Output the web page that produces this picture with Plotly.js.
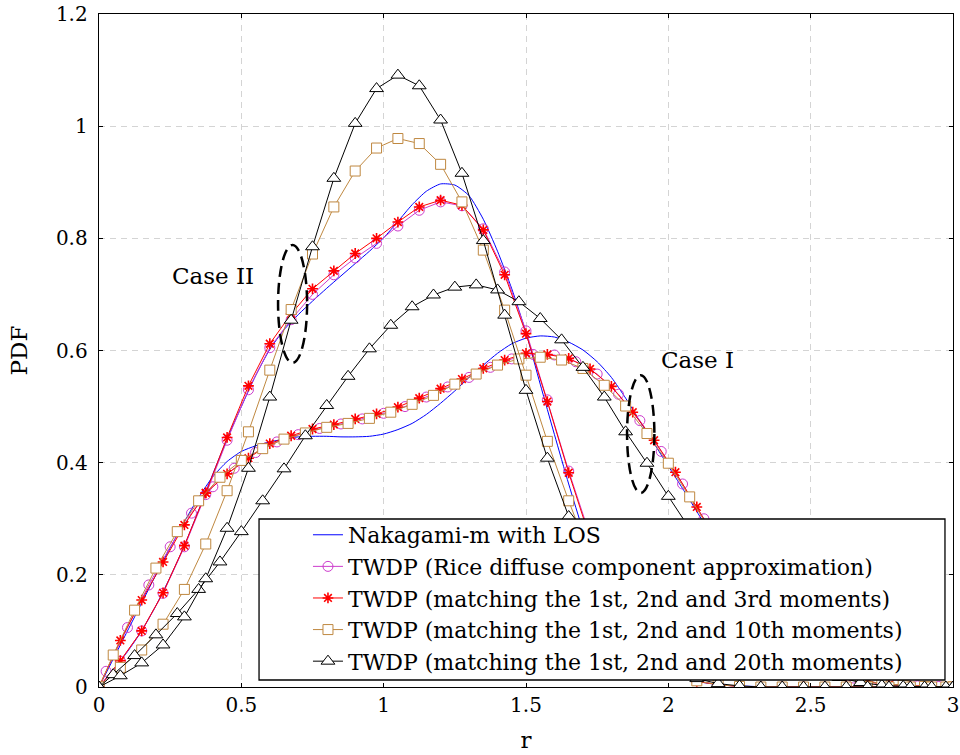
<!DOCTYPE html>
<html>
<head>
<meta charset="utf-8">
<script src="https://cdn.plot.ly/plotly-3.0.1.min.js"></script>
<style>
  html, body { margin: 0; padding: 0; background: #ffffff; }
  #chart { width: 960px; height: 755px; }
</style>
</head>
<body>
<div id="chart"></div>
<script>
// ---------- sampling positions (r) ----------
const rA = [0,0.075,0.15,0.225,0.3,0.375,0.45,0.525,0.6,0.675,0.75,0.825,0.9,0.975,1.05,1.125,1.2,1.275,1.35,1.425,1.5,1.575,1.65,1.725,1.8,1.875,1.95,2.025,2.1,2.175,2.25,2.325,2.4,2.475,2.55,2.625,2.7,2.775,2.85,2.925,3.0];
const rB = [0,0.025,0.1,0.175,0.25,0.325,0.4,0.475,0.55,0.625,0.7,0.775,0.85,0.925,1.0,1.075,1.15,1.225,1.3,1.375,1.45,1.525,1.6,1.675,1.75,1.825,1.9,1.975,2.05,2.125,2.2,2.275,2.35,2.425,2.5,2.575,2.65,2.725,2.8,2.875,2.95,3.0];
const rC = [0,0.05,0.125,0.2,0.275,0.35,0.425,0.5,0.575,0.65,0.725,0.8,0.875,0.95,1.025,1.1,1.175,1.25,1.325,1.4,1.475,1.55,1.625,1.7,1.775,1.85,1.925,2.0,2.075,2.15,2.225,2.3,2.375,2.45,2.525,2.6,2.675,2.75,2.825,2.9,2.975,3.0];
const rFine = [0,0.05,0.1,0.15,0.2,0.25,0.3,0.35,0.4,0.45,0.5,0.55,0.6,0.65,0.7,0.75,0.8,0.85,0.9,0.95,1.0,1.05,1.1,1.15,1.2,1.25,1.3,1.35,1.4,1.45,1.5,1.55,1.6,1.65,1.7,1.75,1.8,1.85,1.9,1.95,2.0,2.05,2.1,2.15,2.2,2.25,2.3,2.35,2.4,2.45,2.5,2.55,2.6,2.65,2.7,2.75,2.8,2.85,2.9,2.95,3.0];

// ---------- Case I ----------
const nakagamiCaseI = [0,0.05,0.1,0.15,0.2,0.248,0.295,0.338,0.375,0.402,0.42,0.43,0.437,0.442,0.446,0.447,0.447,0.446,0.446,0.447,0.451,0.459,0.47,0.486,0.506,0.528,0.552,0.574,0.595,0.612,0.622,0.626,0.624,0.615,0.601,0.58,0.552,0.515,0.474,0.434,0.394,0.354,0.313,0.272,0.232,0.193,0.157,0.124,0.095,0.071,0.051,0.036,0.024,0.016,0.01,0.006,0.004,0.002,0.001,0,0];
const riceCaseI = [0,0.028,0.106,0.182,0.25,0.31,0.357,0.39,0.418,0.437,0.45,0.461,0.469,0.478,0.488,0.5,0.517,0.535,0.552,0.57,0.585,0.593,0.592,0.58,0.558,0.522,0.475,0.42,0.362,0.3,0.237,0.178,0.125,0.083,0.052,0.03,0.016,0.008,0.004,0.002,0.001,0];
const m3CaseI = [0,0.083,0.155,0.223,0.289,0.346,0.38,0.408,0.434,0.448,0.46,0.468,0.478,0.487,0.499,0.515,0.532,0.549,0.568,0.583,0.595,0.593,0.586,0.567,0.536,0.49,0.44,0.383,0.321,0.258,0.195,0.14,0.095,0.06,0.035,0.019,0.009,0.004,0.002,0.001,0];
const m10CaseI = [0,0.057,0.137,0.212,0.277,0.332,0.374,0.404,0.425,0.442,0.453,0.463,0.47,0.479,0.49,0.504,0.52,0.54,0.558,0.574,0.585,0.588,0.583,0.568,0.538,0.501,0.452,0.399,0.339,0.277,0.214,0.158,0.11,0.072,0.044,0.025,0.013,0.006,0.003,0.001,0,0];
const m20CaseI = [0,0.022,0.056,0.093,0.131,0.174,0.223,0.277,0.332,0.389,0.448,0.502,0.554,0.603,0.645,0.678,0.699,0.713,0.717,0.708,0.687,0.657,0.619,0.57,0.517,0.455,0.399,0.34,0.283,0.225,0.172,0.125,0.085,0.055,0.032,0.017,0.008,0.003,0.001,0,0,0];

// ---------- Case II ----------
const nakagamiCaseII = [0,0.03,0.063,0.1,0.145,0.196,0.252,0.315,0.38,0.442,0.5,0.555,0.602,0.637,0.664,0.688,0.711,0.733,0.755,0.777,0.801,0.83,0.86,0.884,0.897,0.895,0.876,0.834,0.777,0.71,0.632,0.54,0.45,0.362,0.28,0.212,0.155,0.108,0.072,0.046,0.029,0.017,0.01,0.006,0.003,0.002,0.001,0,0,0,0,0,0,0,0,0,0,0,0,0,0];
const riceCaseII = [0,0.046,0.1,0.167,0.25,0.343,0.44,0.53,0.605,0.655,0.7,0.735,0.765,0.791,0.822,0.85,0.865,0.858,0.817,0.74,0.635,0.512,0.385,0.27,0.175,0.105,0.056,0.026,0.011,0.004,0.001,0,0,0,0,0,0,0,0,0,0];
const m3CaseII = [0,0.047,0.1,0.168,0.252,0.346,0.445,0.537,0.612,0.665,0.71,0.742,0.773,0.8,0.829,0.856,0.868,0.859,0.815,0.735,0.63,0.509,0.382,0.265,0.17,0.1,0.052,0.024,0.01,0.004,0.001,0,0,0,0,0,0,0,0,0,0];
const m10CaseII = [0,0.035,0.066,0.112,0.174,0.255,0.35,0.455,0.565,0.673,0.772,0.856,0.92,0.961,0.978,0.969,0.932,0.865,0.779,0.672,0.556,0.438,0.332,0.232,0.15,0.09,0.05,0.025,0.011,0.004,0.001,0,0,0,0,0,0,0,0,0,0];
const m20CaseII = [0,0.02,0.043,0.075,0.125,0.193,0.283,0.39,0.517,0.654,0.785,0.907,1.005,1.067,1.091,1.072,1.011,0.916,0.796,0.663,0.529,0.408,0.304,0.215,0.145,0.092,0.055,0.03,0.015,0.006,0.002,0,0,0,0,0,0,0,0,0,0];

// ---------- labels ----------
const seriesNames = [
  "Nakagami-m with LOS",
  "TWDP (Rice diffuse component approximation)",
  "TWDP (matching the 1st, 2nd and 3rd moments)",
  "TWDP (matching the 1st, 2nd and 10th moments)",
  "TWDP (matching the 1st, 2nd and 20th moments)"
];
const xTickVals = [0,0.5,1,1.5,2,2.5,3];
const xTickText = ["0","0.5","1","1.5","2","2.5","3"];
const yTickVals = [0,0.2,0.4,0.6,0.8,1,1.2];
const yTickText = ["0","0.2","0.4","0.6","0.8","1","1.2"];
const caseLabels = ["Case II","Case I"];

// ---------- styles ----------
const FONT = "DejaVu Serif, Liberation Serif, serif";
const cBlue = "#0000ff", cMag = "rgb(205,60,205)", cRed = "#ff0000", cBrown = "rgb(191,136,64)", cBlack = "#000000";

function nak(x, y, show) {
  return {x: x, y: y, type: "scatter", mode: "lines", name: seriesNames[0], showlegend: show,
    legendgroup: "g0", line: {color: cBlue, width: 1, shape: "spline", smoothing: 0.6}};
}
function rice(x, y, show) {
  return {x: x, y: y, type: "scatter", mode: "lines+markers", name: seriesNames[1], showlegend: show,
    legendgroup: "g1", line: {color: cMag, width: 1},
    marker: {symbol: "circle-open", size: 10, color: cMag, line: {color: cMag, width: 1}}};
}
function m3(x, y, show) {
  return {x: x, y: y, type: "scatter", mode: "lines+markers", name: seriesNames[2], showlegend: show,
    legendgroup: "g2", line: {color: cRed, width: 1},
    marker: {symbol: "asterisk-open", size: 9, color: cRed, line: {color: cRed, width: 1.6}}};
}
function m10(x, y, show) {
  return {x: x, y: y, type: "scatter", mode: "lines+markers", name: seriesNames[3], showlegend: show,
    legendgroup: "g3", line: {color: cBrown, width: 1},
    marker: {symbol: "square", size: 10, color: "#ffffff", line: {color: cBrown, width: 1}}};
}
function m20(x, y, show) {
  return {x: x, y: y, type: "scatter", mode: "lines+markers", name: seriesNames[4], showlegend: show,
    legendgroup: "g4", line: {color: cBlack, width: 1},
    marker: {symbol: "triangle-up", size: 12, color: "#ffffff", line: {color: cBlack, width: 1}}};
}

const traces = [
  nak(rFine, nakagamiCaseI, true),
  nak(rFine, nakagamiCaseII, false),
  rice(rB, riceCaseI, true),
  rice(rA, riceCaseII, false),
  m3(rA, m3CaseI, true),
  m3(rA, m3CaseII, false),
  m10(rC, m10CaseI, true),
  m10(rA, m10CaseII, false),
  m20(rC, m20CaseI, true),
  m20(rA, m20CaseII, false)
];

const axisCommon = {
  showline: true, linecolor: "#000", linewidth: 1.3, mirror: "ticks",
  ticks: "inside", ticklen: 4, tickcolor: "#000", tickwidth: 1,
  showgrid: true, gridcolor: "#d4d4d4", gridwidth: 1, griddash: "6px,5px",
  zeroline: false, tickfont: {family: FONT, size: 20, color: "#000"}
};

const layout = {
  width: 960, height: 755,
  margin: {l: 99, r: 7, t: 14, b: 68},
  paper_bgcolor: "#ffffff", plot_bgcolor: "#ffffff",
  font: {family: FONT, color: "#000"},
  xaxis: Object.assign({}, axisCommon, {
    range: [0, 3], tickvals: xTickVals, ticktext: xTickText,
    title: {text: "r", font: {family: FONT, size: 23}, standoff: 15}
  }),
  yaxis: Object.assign({}, axisCommon, {
    range: [0, 1.2], tickvals: yTickVals, ticktext: yTickText, ticklabelstandoff: 6,
    title: {text: "PDF", font: {family: FONT, size: 23}, standoff: 21}
  }),
  showlegend: true,
  legend: {
    x: 0.2447, y: 0.2571, xanchor: "left", yanchor: "top",
    bgcolor: "rgba(0,0,0,0)", borderwidth: 0,
    font: {family: FONT, size: 22, color: "#000"},
    itemwidth: 30, tracegroupgap: 0
  },
  shapes: [
    {type: "rect", xref: "paper", yref: "paper", x0: 0.1874, x1: 0.9906, y0: 0.0104, y1: 0.2496,
     fillcolor: "#ffffff", line: {color: "#000", width: 1.3}, layer: "above"},
    {type: "circle", xref: "x", yref: "y", x0: 0.629, x1: 0.731, y0: 0.578, y1: 0.788,
     line: {color: "#000", width: 2.5, dash: "11px,6px"}, layer: "above"},
    {type: "circle", xref: "x", yref: "y", x0: 1.855, x1: 1.951, y0: 0.346, y1: 0.556,
     line: {color: "#000", width: 2.5, dash: "11px,6px"}, layer: "above"}
  ],
  annotations: [
    {x: 0.401, y: 0.733, xref: "x", yref: "y", text: caseLabels[0], showarrow: false,
     font: {family: FONT, size: 23, color: "#000"}},
    {x: 2.101, y: 0.583, xref: "x", yref: "y", text: caseLabels[1], showarrow: false,
     font: {family: FONT, size: 23, color: "#000"}}
  ]
};

Plotly.newPlot("chart", traces, layout, {displayModeBar: false, staticPlot: true});
</script>
</body>
</html>
